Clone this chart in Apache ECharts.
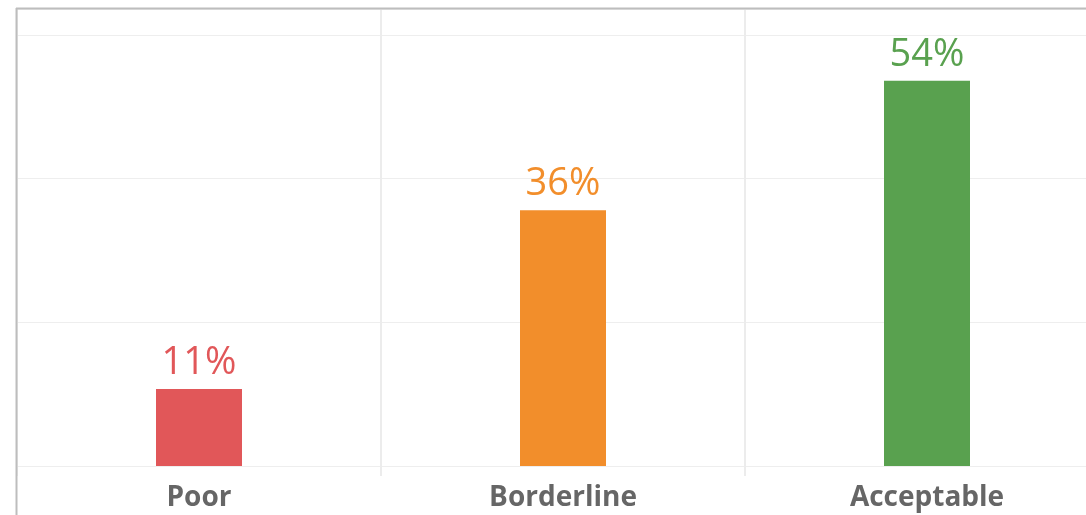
<!DOCTYPE html>
<html>
<head>
<meta charset="utf-8">
<script src="https://cdn.jsdelivr.net/npm/echarts@6/dist/echarts.min.js"></script>
<style>
  html, body { margin: 0; padding: 0; background: #fff; overflow: hidden; }
  /* plot runs past the right edge of the window, like the reference */
  #chart { width: 1109px; height: 515px; }
</style>
</head>
<body>
<div id="chart"></div>
<script>
var categories = ["Poor", "Borderline", "Acceptable"];
var shares = [10.7, 35.6, 53.6];
var barColors = ["#e15759", "#f28e2b", "#59a14f"];

var myChart = echarts.init(document.getElementById("chart"));

myChart.setOption({
  animation: false,
  grid: {
    left: 17,
    right: 0,
    top: 9,
    bottom: 49
  },
  xAxis: {
    type: "category",
    data: categories,
    axisLine: { show: false },
    axisTick: {
      show: true,
      length: 10,
      lineStyle: { color: "#ececec", width: 2 }
    },
    splitLine: {
      show: true,
      lineStyle: { color: "#ececec", width: 2 }
    },
    axisLabel: {
      color: "#666666",
      fontFamily: "Open Sans",
      fontWeight: "bold",
      fontSize: 28,
      margin: 18
    }
  },
  yAxis: {
    type: "value",
    min: 0,
    max: 63.6,
    interval: 20,
    axisLine: { show: false },
    axisTick: { show: false },
    axisLabel: { show: false },
    splitLine: {
      lineStyle: { color: "#eeeeee", width: 1 }
    }
  },
  graphic: [
    {
      type: "line",
      shape: { x1: 16, y1: 8.5, x2: 1109, y2: 8.5 },
      style: { stroke: "#bdbdbd", lineWidth: 2 },
      z: 100
    },
    {
      type: "line",
      shape: { x1: 16.5, y1: 8, x2: 16.5, y2: 515 },
      style: { stroke: "#bdbdbd", lineWidth: 2 },
      z: 100
    }
  ],
  series: [
    {
      type: "bar",
      barWidth: 86,
      data: shares.map(function(v, i) {
        return {
          value: v,
          itemStyle: { color: barColors[i] },
          label: { color: barColors[i] }
        };
      }),
      label: {
        show: true,
        position: "top",
        distance: 7,
        fontFamily: "Open Sans",
        fontSize: 38,
        formatter: function(arg) {
          return Math.round(arg.value) + "%";
        }
      }
    }
  ]
});
</script>
</body>
</html>
